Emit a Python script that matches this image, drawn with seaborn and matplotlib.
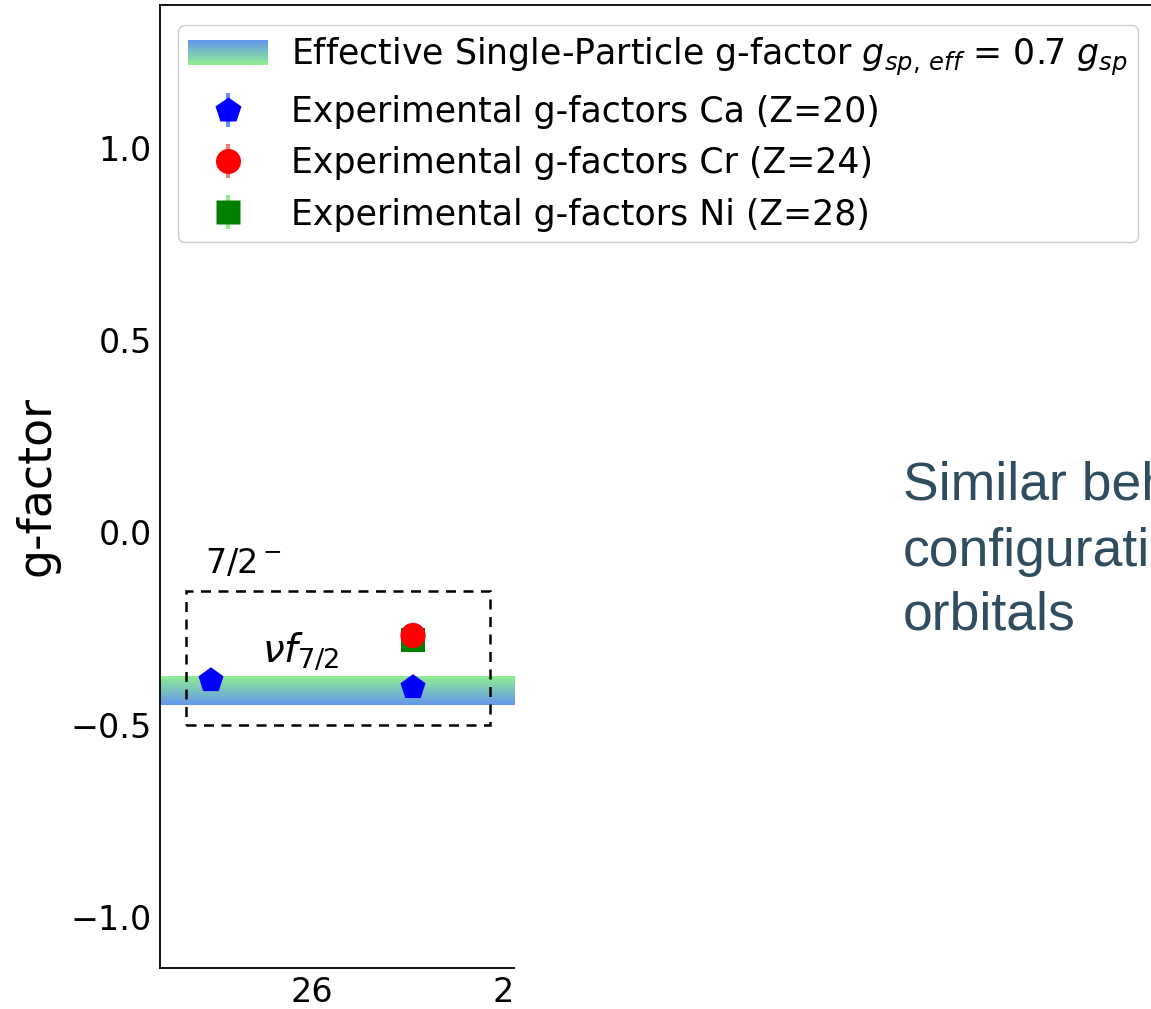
import numpy as np
import matplotlib
matplotlib.use('Agg')
import matplotlib.pyplot as plt
import seaborn as sns
import pandas as pd
from matplotlib.patches import Rectangle
from matplotlib.lines import Line2D
from matplotlib.legend_handler import HandlerBase, HandlerTuple
from matplotlib.colors import LinearSegmentedColormap

# ---------------- data ----------------
ca_N = [25, 27]
ca_g = [-0.385, -0.403]
ca_err = [0.003, 0.004]
cr_N = [27]
cr_g = [-0.268]
cr_err = [0.003]
ni_N = [27]
ni_g = [-0.281]
ni_err = [0.003]
band_range = [-0.449, -0.376]          # effective single-particle g-factor band
box_x = [24.75, 27.76]                 # dashed box around 7/2- states
box_y = [-0.5, -0.152]
xticks = [26, 28]
yticks = [-1.0, -0.5, 0.0, 0.5, 1.0]
labels = ["Effective Single-Particle g-factor $g_{sp,\\,eff}$ = 0.7 $g_{sp}$",
          "Experimental g-factors Ca (Z=20)",
          "Experimental g-factors Cr (Z=24)",
          "Experimental g-factors Ni (Z=28)"]
slide_lines = ["Similar beh", "configurati", "orbitals"]

# ---------------- figure ----------------
sns.set_theme(style="white")
plt.rcParams['font.family'] = ['DejaVu Sans']
plt.rcParams['mathtext.fontset'] = 'dejavusans'
plt.rcParams['text.color'] = 'black'
plt.rcParams['axes.labelcolor'] = 'black'

W, H = 1151, 1009
fig = plt.figure(figsize=(W / 100, H / 100), dpi=100)

ax_left_px, ax_right_px = 160, 1165
ax_top_px, ax_bot_px = 5, 968
ax = fig.add_axes([ax_left_px / W, 1 - ax_bot_px / H,
                   (ax_right_px - ax_left_px) / W, (ax_bot_px - ax_top_px) / H])

ppu = 101.0   # pixels per x unit (tick 26 at 312 px, 28 at 514 px)
x0 = 26 - (312 - ax_left_px) / ppu
x1 = 26 + (ax_right_px - 312) / ppu

# gradient band
green = (144 / 255, 238 / 255, 144 / 255)
blue = (100 / 255, 149 / 255, 237 / 255)
cmap_band = LinearSegmentedColormap.from_list("band", [green, blue])
cmap_leg = LinearSegmentedColormap.from_list("leg", [blue, green])
grad = np.linspace(0, 1, 256).reshape(-1, 1)
ax.imshow(grad, cmap=cmap_band, aspect='auto', origin='upper',
          extent=[x0, 28.3, band_range[0], band_range[1]], zorder=1)

# data points (seaborn)
df = pd.DataFrame({
    "N": ca_N + cr_N + ni_N,
    "g": ca_g + cr_g + ni_g,
    "err": ca_err + cr_err + ni_err,
    "el": ["Ca"] * len(ca_N) + ["Cr"] * len(cr_N) + ["Ni"] * len(ni_N),
})
styles = {"Ni": ("s", "green", "lightgreen", 3, 300),
          "Cr": ("o", "red", "lightcoral", 4, 330),
          "Ca": ("p", "blue", "cornflowerblue", 5, 360)}
for el in ["Ni", "Cr", "Ca"]:
    m, c, ec, z, s = styles[el]
    sub = df[df.el == el]
    ax.errorbar(sub.N, sub.g, yerr=sub.err, fmt='none', ecolor=ec, elinewidth=2, zorder=z)
    sns.scatterplot(data=sub, x="N", y="g", marker=m, color=c, s=s,
                    edgecolor='none', linewidth=0, ax=ax, zorder=z, legend=False)

ax.set_xlim(x0, x1)
ax.set_ylim(-1.133, 1.372)

# dashed box
ax.add_patch(Rectangle((box_x[0], box_y[0]), box_x[1] - box_x[0], box_y[1] - box_y[0],
                       fill=False, ls=(0, (4, 3)), lw=1.8, ec='black', zorder=6))
ax.text(24.94, -0.08, "7/2$^-$", fontsize=24, ha='left', va='center', zorder=6)
ax.text(25.5, -0.31, "$\\nu f_{7/2}$", fontsize=28, ha='left', va='center', zorder=6)

# axes styling
ax.set_xticks(xticks)
ax.set_xticklabels([str(t) for t in xticks])
ax.set_yticks(yticks)
ax.set_yticklabels([f"{t:.1f}".replace('-', '\u2212') for t in yticks])
ax.tick_params(direction='in', length=8, width=1.5, labelsize=24,
               top=False, right=False, colors='black')
ax.tick_params(axis='y', pad=6)
ax.tick_params(axis='x', pad=6)
ax.set_xlabel("")
ax.set_ylabel("g-factor", fontsize=33, labelpad=8)
for s in ax.spines.values():
    s.set_color('black')
    s.set_linewidth(1.3)
ax.spines['right'].set_visible(False)
ax.grid(False)

# legend
class GradientHandler(HandlerBase):
    def create_artists(self, legend, orig_handle, xdescent, ydescent,
                       width, height, fontsize, trans):
        n = 40
        arts = []
        h = height / n
        for i in range(n):
            y = -ydescent + height - (i + 1) * h
            r = Rectangle((-xdescent, y), width, h * 1.05, fc=cmap_leg(i / (n - 1)),
                          ec='none', transform=trans)
            arts.append(r)
        return arts

band_handle = Rectangle((0, 0), 1, 1)
def eb_handle(m, c, ec, ms):
    bar = Line2D([], [], marker='|', markersize=25, mew=3, color=ec, ls='none')
    mk = Line2D([], [], marker=m, markersize=ms, color=c, mec='none', ls='none')
    return (bar, mk)

handles = [band_handle,
           eb_handle('p', 'blue', 'cornflowerblue', 19),
           eb_handle('o', 'red', 'lightcoral', 18),
           eb_handle('s', 'green', 'lightgreen', 17)]
leg = ax.legend(handles, labels, loc='upper left',
                bbox_to_anchor=(178 / W, 1 - 25 / H), bbox_transform=fig.transFigure,
                borderaxespad=0, fontsize=25, handlelength=2.3, handleheight=0.7,
                handletextpad=0.65, labelspacing=0.5, frameon=True, fancybox=True,
                edgecolor='#cccccc', framealpha=1.0, borderpad=0.3,
                handler_map={Rectangle: GradientHandler(),
                             tuple: HandlerTuple(ndivide=1)})
for t in leg.get_texts():
    t.set_color('black')

# slide overlay: white area covering the right part of the plot
fig.add_artist(Rectangle((515 / W, 0), 1 - 515 / W, 1 - 262 / H, transform=fig.transFigure,
                         fc='white', ec='none', zorder=5))
slide_color = '#2F4D5E'
for txt, yb in zip(slide_lines, [500, 566, 630]):
    fig.text(903 / W, 1 - yb / H, txt, fontsize=38.5, family='Liberation Sans',
             color=slide_color, ha='left', va='baseline', zorder=6)

fig.savefig("out.png", dpi=100)
